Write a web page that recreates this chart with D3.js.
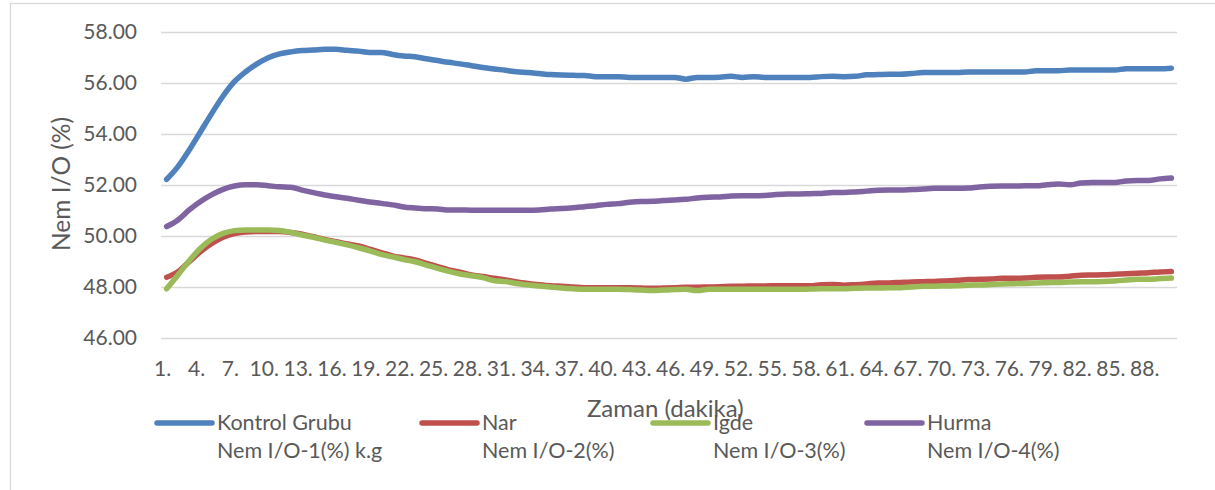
<!DOCTYPE html>
<html>
<head>
<meta charset="utf-8">
<script src="https://cdn.jsdelivr.net/npm/d3@7"></script>
<style>
  html, body { margin: 0; padding: 0; background: #fff; }
  svg { display: block; }
  text { font-family: Lato, "Open Sans", sans-serif; fill: #595959; }
</style>
</head>
<body>
<svg id="chart" width="1215" height="490"></svg>
<script>
// Minutes 1..90
const minutes = d3.range(1, 91);

// Moisture readings (%) per minute
const kontrol = [52.22,52.72,53.37,54.09,54.81,55.49,56.05,56.44,56.75,56.99,57.14,57.22,57.27,57.29,57.32,57.32,57.28,57.25,57.20,57.20,
  57.12,57.06,57.03,56.95,56.88,56.81,56.75,56.68,56.61,56.55,56.50,56.44,56.41,56.37,56.33,56.31,56.30,56.29,56.25,56.25,
  56.25,56.22,56.22,56.22,56.22,56.22,56.15,56.22,56.22,56.23,56.26,56.22,56.25,56.22,56.22,56.22,56.22,56.22,56.25,56.26,
  56.25,56.26,56.32,56.33,56.34,56.34,56.37,56.41,56.41,56.41,56.41,56.43,56.43,56.43,56.43,56.43,56.43,56.48,56.48,56.48,
  56.51,56.51,56.51,56.51,56.51,56.56,56.56,56.56,56.56,56.58];

const nar = [48.38,48.60,48.99,49.39,49.71,49.95,50.10,50.16,50.18,50.18,50.18,50.14,50.07,49.97,49.87,49.78,49.69,49.61,49.48,49.35,
  49.22,49.14,49.06,48.93,48.80,48.67,48.58,48.47,48.41,48.34,48.28,48.20,48.14,48.09,48.05,48.03,48.00,47.97,47.97,47.97,
  47.97,47.97,47.96,47.95,47.96,47.97,47.99,47.99,48.00,48.01,48.03,48.03,48.04,48.04,48.05,48.05,48.05,48.05,48.09,48.10,
  48.07,48.09,48.12,48.16,48.16,48.18,48.20,48.21,48.22,48.24,48.26,48.29,48.30,48.31,48.34,48.34,48.35,48.38,48.39,48.39,
  48.42,48.46,48.47,48.48,48.50,48.52,48.54,48.56,48.59,48.61];

const igde = [47.93,48.47,49.03,49.52,49.88,50.10,50.21,50.24,50.24,50.24,50.22,50.14,50.04,49.95,49.84,49.75,49.65,49.54,49.42,49.28,
  49.18,49.08,48.99,48.86,48.73,48.61,48.51,48.44,48.37,48.25,48.21,48.14,48.08,48.04,48.00,47.96,47.93,47.91,47.91,47.91,
  47.91,47.90,47.88,47.86,47.88,47.90,47.91,47.86,47.91,47.91,47.91,47.91,47.91,47.91,47.91,47.91,47.91,47.92,47.93,47.93,
  47.93,47.95,47.96,47.96,47.97,47.97,48.00,48.03,48.03,48.04,48.05,48.07,48.08,48.10,48.12,48.13,48.14,48.16,48.17,48.18,
  48.20,48.21,48.21,48.22,48.24,48.27,48.30,48.30,48.33,48.35];

const hurma = [50.37,50.63,51.02,51.35,51.62,51.83,51.96,52.01,52.01,51.97,51.93,51.91,51.80,51.70,51.61,51.54,51.48,51.40,51.33,51.28,
  51.22,51.14,51.10,51.07,51.06,51.02,51.02,51.01,51.01,51.01,51.01,51.01,51.01,51.02,51.06,51.08,51.11,51.15,51.19,51.24,
  51.27,51.32,51.35,51.36,51.39,51.41,51.44,51.49,51.52,51.53,51.57,51.58,51.58,51.59,51.63,51.65,51.65,51.66,51.67,51.71,
  51.71,51.73,51.76,51.79,51.80,51.80,51.82,51.84,51.87,51.87,51.87,51.88,51.92,51.95,51.96,51.96,51.97,51.97,52.01,52.04,
  52.01,52.08,52.10,52.10,52.10,52.16,52.18,52.18,52.24,52.27];

const yTicks = [46, 48, 50, 52, 54, 56, 58];
const seriesNames = ["Kontrol Grubu", "Nar", "Igde", "Hurma"];
const seriesSubtitles = ["Nem I/O-1(%) k.g", "Nem I/O-2(%)", "Nem I/O-3(%)", "Nem I/O-4(%)"];
const seriesColors = ["#4F81BD", "#C0504D", "#9BBB59", "#8064A2"];
const seriesValues = [kontrol, nar, igde, hurma];
const yTitle = "Nem I/O (%)";
const xTitle = "Zaman (dakika)";

const svg = d3.select("#chart");
const plot = { left: 161, right: 1177, top: 32, bottom: 338 };

// outer chart frame
svg.append("rect")
  .attr("x", 10.5).attr("y", 3.5)
  .attr("width", 1300).attr("height", 600)
  .attr("fill", "none").attr("stroke", "#d9d9d9").attr("stroke-width", 1.3);

const x = d3.scaleBand().domain(minutes).range([plot.left, plot.right]).padding(0);
const cx = m => x(m) + x.bandwidth() / 2;
const y = d3.scaleLinear().domain([46, 58]).range([plot.bottom, plot.top]);

// horizontal gridlines + value labels
const yAxis = svg.append("g")
  .attr("transform", `translate(${plot.left},0)`)
  .call(d3.axisLeft(y).tickValues(yTicks).tickFormat(d3.format(".2f"))
    .tickSize(-(plot.right - plot.left)).tickPadding(24));
yAxis.select(".domain").remove();
yAxis.selectAll(".tick line").attr("stroke", "#d9d9d9").attr("stroke-width", 1.3);
yAxis.selectAll(".tick text")
  .style("font-size", "21px").attr("fill", "#595959")
  .style("font-family", "Lato, sans-serif");

// category labels every third minute
const xAxis = svg.append("g")
  .attr("transform", `translate(-4,${plot.bottom})`)
  .call(d3.axisBottom(x).tickValues(minutes.filter(m => (m - 1) % 3 === 0))
    .tickFormat(m => m + ".").tickSize(0).tickPadding(23));
xAxis.select(".domain").remove();
xAxis.selectAll(".tick text")
  .style("font-size", "21px").attr("fill", "#595959")
  .style("font-family", "Lato, sans-serif");

// series lines
const line = d3.line()
  .x((d, i) => cx(minutes[i]))
  .y(d => y(d))
  .curve(d3.curveMonotoneX);

seriesValues.forEach((vals, k) => {
  svg.append("path")
    .datum(vals)
    .attr("d", line)
    .attr("fill", "none")
    .attr("stroke", seriesColors[k])
    .attr("stroke-width", 5.5)
    .attr("stroke-linecap", "round")
    .attr("stroke-linejoin", "round");
});

// axis titles
svg.append("text")
  .attr("transform", "translate(70,184) rotate(-90)")
  .attr("text-anchor", "middle")
  .style("font-size", "24.5px")
  .text(yTitle);

// legend
const legendX = [157, 422, 653, 867];
const legend = svg.append("g");
seriesNames.forEach((name, k) => {
  const g = legend.append("g").attr("transform", `translate(${legendX[k]},0)`);
  g.append("line")
    .attr("x1", 0).attr("x2", 55).attr("y1", 423).attr("y2", 423)
    .attr("stroke", seriesColors[k]).attr("stroke-width", 5.5)
    .attr("stroke-linecap", "round");
  g.append("text").attr("x", 60).attr("y", 430)
    .style("font-size", "21.5px").text(name);
  g.append("text").attr("x", 60).attr("y", 458)
    .style("font-size", "21.5px").text(seriesSubtitles[k]);
});

svg.append("text")
  .attr("x", 587).attr("y", 417)
  .style("font-size", "24px")
  .text(xTitle);
</script>
</body>
</html>
